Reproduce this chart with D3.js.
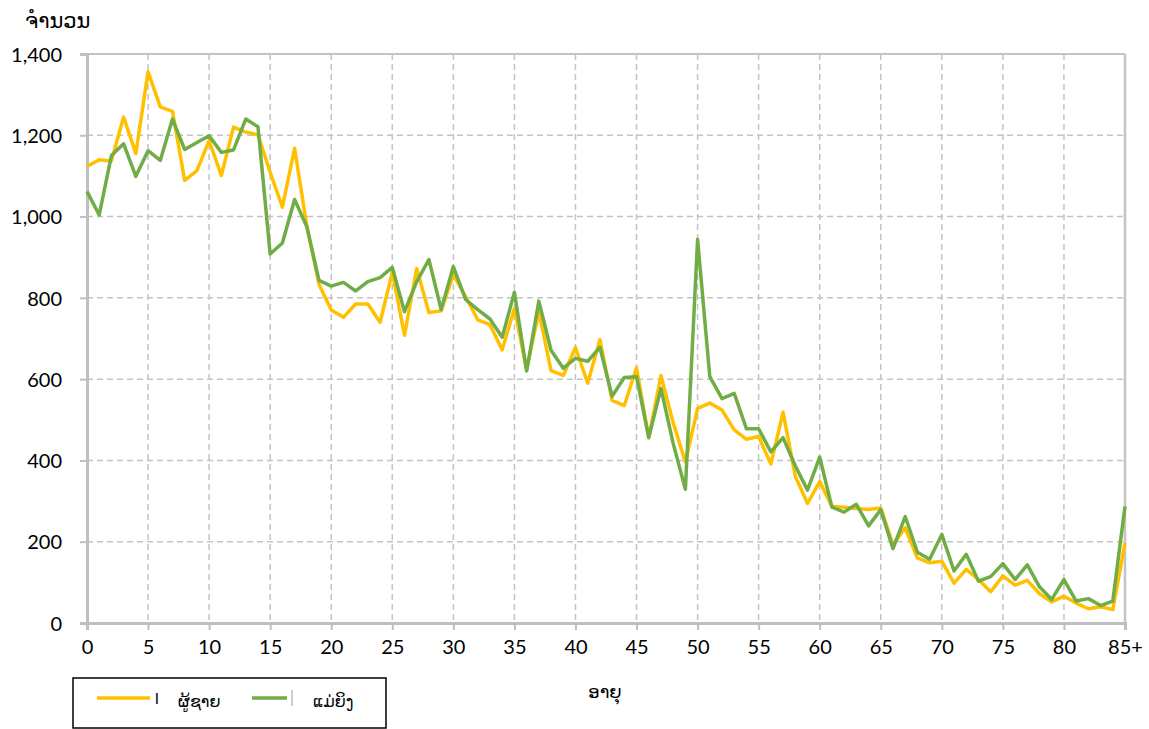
<!DOCTYPE html>
<html>
<head>
<meta charset="utf-8">
<script src="https://cdn.jsdelivr.net/npm/d3@7"></script>
<style>
  body { margin: 0; background: #fff; }
  svg text { font-family: Lato, "DejaVu Sans", sans-serif; fill: #000; }
</style>
</head>
<body>
<svg id="chart"></svg>
<script>
const svg_width = 1149;
const svg_height = 729;

var margin = { top: 54, right: 24, bottom: 106, left: 87 };

// ages 0 .. 84, last one is 85+
var ages = d3.range(0, 86);
var age_labels = ages.map(a => a === 85 ? "85+" : String(a));

var male = [1123, 1140, 1137, 1245, 1155, 1356, 1270, 1259, 1089, 1113,
            1187, 1101, 1220, 1208, 1201, 1109, 1023, 1168, 977, 833,
            770, 752, 785, 785, 740, 863, 708, 872, 764, 768,
            857, 803, 746, 734, 672, 774, 623, 766, 621, 609,
            678, 590, 697, 548, 535, 628, 456, 609, 493, 396,
            528, 541, 524, 475, 452, 459, 391, 519, 361, 294,
            348, 287, 285, 282, 279, 283, 193, 234, 160, 148,
            152, 98, 132, 107, 77, 116, 93, 105, 72, 52,
            66, 49, 35, 40, 33, 197];

var female = [1062, 1004, 1150, 1179, 1099, 1162, 1138, 1240, 1165, 1182,
              1199, 1158, 1164, 1240, 1221, 908, 935, 1042, 975, 843,
              829, 838, 817, 840, 850, 875, 766, 840, 894, 771,
              877, 796, 771, 748, 703, 814, 620, 792, 671, 627,
              651, 644, 678, 558, 604, 606, 456, 577, 442, 329,
              944, 606, 552, 565, 478, 478, 421, 456, 387, 327,
              408, 285, 273, 292, 239, 279, 183, 262, 174, 157,
              218, 128, 169, 103, 114, 146, 107, 143, 89, 58,
              107, 54, 60, 43, 54, 287];

var y_ticks = [0, 200, 400, 600, 800, 1000, 1200, 1400];
var x_ticks = d3.range(0, 86, 5);

var series = [
  { name: "ຜູ້ຊາຍ", values: male, color: "#FFC000" },
  { name: "ແມ່ຍິງ", values: female, color: "#70AD47" }
];

var width = svg_width - margin.left - margin.right;
var height = svg_height - margin.top - margin.bottom;

var svg = d3.select("svg#chart")
    .attr("width", svg_width)
    .attr("height", svg_height);

var x = d3.scaleLinear().domain([0, 85]).range([0, width]);
var y = d3.scaleLinear().domain([0, 1400]).range([height, 0]);

var g = svg.append("g")
    .attr("transform", translate(margin.left, margin.top));

// dashed grid
g.append("g")
  .selectAll("line")
  .data(y_ticks.filter(d => d > 0 && d < 1400))
  .enter()
  .append("line")
  .attr("x1", 0).attr("x2", width)
  .attr("y1", d => y(d)).attr("y2", d => y(d))
  .attr("stroke", "#c4c4c4")
  .attr("stroke-width", 1.5)
  .attr("stroke-dasharray", "6,4");

g.append("g")
  .selectAll("line")
  .data(x_ticks.filter(d => d > 0 && d < 85))
  .enter()
  .append("line")
  .attr("y1", 0).attr("y2", height)
  .attr("x1", d => x(d)).attr("x2", d => x(d))
  .attr("stroke", "#c4c4c4")
  .attr("stroke-width", 1.5)
  .attr("stroke-dasharray", "6,4");

// top and right border
g.append("line")
  .attr("x1", 0).attr("x2", width).attr("y1", 0).attr("y2", 0)
  .attr("stroke", "#c4c4c4").attr("stroke-width", 2);
g.append("line")
  .attr("x1", width).attr("x2", width).attr("y1", 0).attr("y2", height)
  .attr("stroke", "#c4c4c4").attr("stroke-width", 2.5);

// axes
var xAxis = d3.axisBottom(x)
    .tickValues(x_ticks)
    .tickSize(7)
    .tickPadding(10)
    .tickFormat(d => age_labels[d]);

var yAxis = d3.axisLeft(y)
    .tickValues(y_ticks)
    .tickSize(7)
    .tickPadding(18)
    .tickFormat(d3.format(","));

var gx = g.append("g")
  .attr("transform", translate(0, height))
  .call(xAxis);

var gy = g.append("g").call(yAxis);

[gx, gy].forEach(a => {
  a.select(".domain").attr("stroke", "#bfbfbf").attr("stroke-width", 3);
  a.selectAll(".tick line").attr("stroke", "#bfbfbf").attr("stroke-width", 2);
  a.selectAll(".tick text").style("font-size", "20px").attr("fill", "#000");
});
gy.selectAll(".tick text").attr("dy", "0.36em");

// lines
var line = d3.line()
    .x((d, i) => x(ages[i]))
    .y(d => y(d));

series.forEach(s => {
  g.append("path")
    .datum(s.values)
    .attr("fill", "none")
    .attr("stroke", s.color)
    .attr("stroke-width", 3.5)
    .attr("stroke-linejoin", "round")
    .attr("d", line);
});

// axis titles
svg.append("text")
  .attr("x", 25).attr("y", 28)
  .style("font-size", "21px")
  .text("ຈຳນວນ");

svg.append("text")
  .attr("x", 605).attr("y", 698)
  .attr("text-anchor", "middle")
  .style("font-size", "18px")
  .text("ອາຍຸ");

// legend
var legend = svg.append("g");
legend.append("rect")
  .attr("x", 73).attr("y", 678)
  .attr("width", 313).attr("height", 50)
  .attr("fill", "none")
  .attr("stroke", "#000")
  .attr("stroke-width", 1.5);

var lx = [97, 252];
var lw = [53, 35];
var tx = [178, 313];
series.forEach((s, i) => {
  legend.append("line")
    .attr("x1", lx[i]).attr("x2", lx[i] + lw[i])
    .attr("y1", 698).attr("y2", 698)
    .attr("stroke", s.color)
    .attr("stroke-width", 3.5);
  legend.append("text")
    .attr("x", tx[i]).attr("y", 707)
    .style("font-size", "16px")
    .text(s.name);
});
legend.append("text")
  .attr("x", 155).attr("y", 704)
  .style("font-size", "16px")
  .text("l");
legend.append("line")
  .attr("x1", 292).attr("x2", 292).attr("y1", 690).attr("y2", 706)
  .attr("stroke", "#999").attr("stroke-width", 1);

function translate(x, y) {
  return 'translate(' + String(x) + ',' + String(y) + ')';
}
</script>
</body>
</html>
